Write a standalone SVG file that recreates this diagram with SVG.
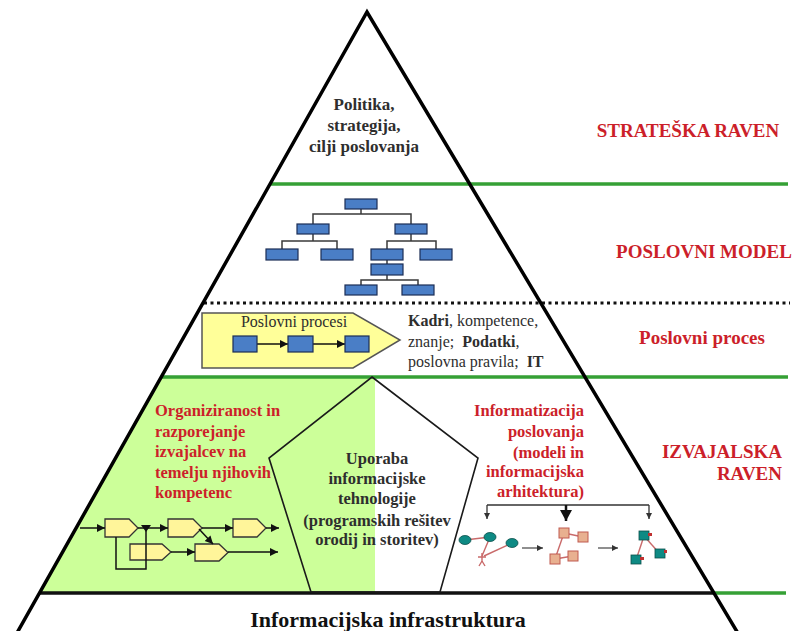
<svg xmlns="http://www.w3.org/2000/svg" width="799" height="631" viewBox="0 0 799 631">
<style>
.serif{font-family:"Liberation Serif","Times New Roman",serif}
.red{fill:#CC1F2A;font-weight:bold;font-family:"Liberation Serif","Times New Roman",serif}
.dark{fill:#2E2E2E;font-family:"Liberation Serif","Times New Roman",serif}
.b{font-weight:bold}
.green{stroke:#35A035;stroke-width:3.5;fill:none}
.org{fill:#4A7EC6;stroke:#1C2E55;stroke-width:1.2}
.oline{stroke:#3A3A3A;stroke-width:1.5;fill:none}
.yshape{fill:#FFF59A;stroke:#333;stroke-width:1.3}
.ar{stroke:#111;stroke-width:1.5;fill:none;marker-end:url(#ah)}
.teal{fill:#0E8A84;stroke:#0B4F4A;stroke-width:0.8}
.sal{stroke:#C96A6A;stroke-width:1.4;fill:none}
.obox{fill:#E8B090;stroke:#C05A50;stroke-width:1}
</style>
<defs>
<marker id="ah" markerUnits="userSpaceOnUse" markerWidth="9" markerHeight="9" refX="8" refY="4" orient="auto"><path d="M0,0 L8,4 L0,8 z" fill="#111"/></marker>
<marker id="ahb" markerUnits="userSpaceOnUse" markerWidth="12" markerHeight="12" refX="11" refY="6" orient="auto"><path d="M0,0 L11,6 L0,12 z" fill="#111"/></marker>
<marker id="ahg" markerUnits="userSpaceOnUse" markerWidth="7" markerHeight="7" refX="6" refY="3" orient="auto"><path d="M0,0 L6,3 L0,6 z" fill="#333"/></marker>
</defs>
<rect width="799" height="631" fill="#fff"/>

<!-- green area -->
<polygon points="162.3,377 375,377 375,592 40.4,592" fill="#CCFF99"/>

<!-- level lines -->
<g id="levels">
<line class="green" x1="270" y1="184" x2="788" y2="184"/>
<line x1="204" y1="303" x2="790" y2="303" stroke="#111" stroke-width="3" stroke-dasharray="3 3.5"/>
<line class="green" x1="162" y1="377" x2="788" y2="377"/>
<line class="green" x1="714" y1="593" x2="786" y2="593"/>
<line x1="40" y1="593" x2="714" y2="593" stroke="#111" stroke-width="3.5"/>
</g>

<!-- pyramid outline -->
<polyline id="pyramid" points="13,640 367,12 742,640" fill="none" stroke="#000" stroke-width="3.5" stroke-linejoin="miter"/>

<!-- strategic text -->
<g id="strategy">
<text class="dark b" font-size="17" text-anchor="middle"><tspan x="364" y="110">Politika,</tspan><tspan x="364" y="131">strategija,</tspan><tspan x="364" y="152">cilji poslovanja</tspan></text>
</g>

<!-- org chart -->
<g id="orgchart">
<g class="oline">
<polyline points="361,209 361,214"/>
<polyline points="313,224 313,214 411,214 411,224"/>
<polyline points="313,234 313,241"/>
<polyline points="282,249 282,241 337,241 337,249"/>
<polyline points="411,234 411,241"/>
<polyline points="387,249 387,241 436,241 436,249"/>
<polyline points="387,260 387,264"/>
<polyline points="387,275 387,280"/>
<polyline points="361,285 361,280 418,280 418,285"/>
</g>
<rect class="org" x="345" y="199" width="32" height="10"/>
<rect class="org" x="297" y="224" width="32" height="10"/>
<rect class="org" x="395" y="224" width="32" height="10"/>
<rect class="org" x="266" y="249" width="32" height="11"/>
<rect class="org" x="321" y="249" width="32" height="11"/>
<rect class="org" x="371" y="249" width="32" height="11"/>
<rect class="org" x="420" y="249" width="32" height="11"/>
<rect class="org" x="371" y="264" width="32" height="11"/>
<rect class="org" x="345" y="285" width="32" height="10"/>
<rect class="org" x="402" y="285" width="32" height="10"/>
</g>

<!-- business process arrow -->
<g id="process">
<polygon points="202,313 353,313 400,340 353,368 202,368" fill="#FFFF99" stroke="#555" stroke-width="1.5"/>
<text class="dark" font-size="16" x="294" y="327" text-anchor="middle">Poslovni procesi</text>
<line class="ar" x1="257" y1="344" x2="288" y2="344"/>
<line class="ar" x1="313" y1="344" x2="345" y2="344"/>
<rect class="org" x="233" y="336" width="24" height="16"/>
<rect class="org" x="288" y="336" width="25" height="16"/>
<rect class="org" x="345" y="336" width="24" height="16"/>
</g>
<g id="resources">
<text class="dark" font-size="16"><tspan x="408" y="326" font-weight="bold">Kadri</tspan><tspan>, kompetence,</tspan><tspan x="408" y="347">znanje;</tspan><tspan dx="8" font-weight="bold">Podatki</tspan><tspan>,</tspan><tspan x="408" y="367">poslovna pravila;</tspan><tspan dx="8" font-weight="bold">IT</tspan></text>
</g>

<!-- right labels -->
<g id="labels">
<text class="red" font-size="19" x="688" y="137" text-anchor="middle">STRATEŠKA RAVEN</text>
<text class="red" font-size="19" x="704" y="258" text-anchor="middle">POSLOVNI MODEL</text>
<text class="red" font-size="19" x="702" y="344" text-anchor="middle">Poslovni proces</text>
<text class="red" font-size="19" text-anchor="end"><tspan x="782" y="458">IZVAJALSKA</tspan><tspan x="782" y="480">RAVEN</tspan></text>
</g>

<!-- left red text -->
<g id="organization">
<text class="red" font-size="16.5"><tspan x="155" y="416">Organiziranost in</tspan><tspan x="155" y="437">razporejanje</tspan><tspan x="155" y="457">izvajalcev na</tspan><tspan x="155" y="478">temelju njihovih</tspan><tspan x="155" y="498">kompetenc</tspan></text>
</g>

<!-- workflow in green area -->
<g id="workflow">
<polygon class="yshape" points="105,519 129,519 138,528 129,537 105,537"/>
<polygon class="yshape" points="168,519 193,519 202,528 193,537 168,537"/>
<polygon class="yshape" points="233,519 257,519 266,528 257,537 233,537"/>
<polygon class="yshape" points="130,544 162,544 171,552 162,560 130,560"/>
<polygon class="yshape" points="195,544 219,544 228,552.5 219,561 195,561"/>
</g>
<g id="connectors">
<line class="ar" x1="80" y1="528" x2="105" y2="528"/>
<line class="ar" x1="138" y1="528" x2="168" y2="528"/>
<path d="M141,525 L151,525 L146,532 z" fill="#111"/>
<line class="ar" x1="202" y1="528" x2="233" y2="528"/>
<line class="ar" x1="266" y1="528" x2="279" y2="528"/>
<line class="ar" x1="199" y1="529" x2="213" y2="544"/>
<line class="ar" x1="171" y1="552" x2="195" y2="552"/>
<line class="ar" x1="228" y1="552" x2="278" y2="552"/>
<polyline points="116,537 116,569 146,569 146,530" fill="none" stroke="#111" stroke-width="1.5"/>
<polyline points="487,505 649,505" fill="none" stroke="#333" stroke-width="1.3"/>
<line x1="487" y1="505" x2="487" y2="519" stroke="#333" stroke-width="1.3" marker-end="url(#ahg)"/>
<line x1="649" y1="505" x2="649" y2="519" stroke="#333" stroke-width="1.3" marker-end="url(#ahg)"/>
<line x1="566" y1="505" x2="566" y2="521" stroke="#111" stroke-width="2.5" marker-end="url(#ahb)"/>
<line x1="522" y1="548" x2="543" y2="548" stroke="#444" stroke-width="1.2" marker-end="url(#ahg)"/>
<line x1="598" y1="548" x2="618" y2="548" stroke="#444" stroke-width="1.2" marker-end="url(#ahg)"/>
</g>

<!-- pentagon -->
<g id="technology">
<polygon points="372,377 478,458 440,592 311,592 269,458" fill="none" stroke="#1a1a1a" stroke-width="1.6"/>
<text class="dark b" font-size="16.5" text-anchor="middle"><tspan x="377" y="464">Uporaba</tspan><tspan x="377" y="484">informacijske</tspan><tspan x="377" y="504">tehnologije</tspan><tspan x="377" y="526">(programskih rešitev</tspan><tspan x="377" y="545">orodij in storitev)</tspan></text>
</g>

<!-- right red text -->
<g id="informatization">
<text class="red" font-size="16.5" text-anchor="end"><tspan x="584" y="416">Informatizacija</tspan><tspan x="584" y="437">poslovanja</tspan><tspan x="584" y="458">(modeli in</tspan><tspan x="584" y="477">informacijska</tspan><tspan x="584" y="497">arhitektura)</tspan></text>
</g>

<!-- architecture icons -->
<g id="model1">
<line class="sal" x1="465" y1="540" x2="490" y2="537"/>
<line class="sal" x1="490" y1="537" x2="482" y2="556"/>
<line class="sal" x1="512" y1="543" x2="484" y2="556"/>
<path class="sal" d="M482,553 L482,561 M478,557 L486,557 M482,561 L479,566 M482,561 L485,566"/>
<ellipse class="teal" cx="465" cy="540" rx="6" ry="4.5"/>
<ellipse class="teal" cx="490" cy="537" rx="6" ry="4.5"/>
<ellipse class="teal" cx="512" cy="543" rx="6" ry="4.5"/>
</g>
<g id="model2">
<line class="sal" x1="564" y1="533" x2="583" y2="537"/>
<line class="sal" x1="564" y1="533" x2="555" y2="559"/>
<line class="sal" x1="555" y1="559" x2="573" y2="556"/>
<rect class="obox" x="559" y="528" width="10" height="10"/>
<rect class="obox" x="578" y="532" width="10" height="10"/>
<rect class="obox" x="550" y="554" width="10" height="10"/>
<rect class="obox" x="568" y="551" width="10" height="10"/>
</g>
<g id="model3">
<line class="sal" x1="644" y1="536" x2="636" y2="560"/>
<line class="sal" x1="644" y1="536" x2="660" y2="554"/>
<rect class="teal" x="639" y="531" width="10" height="9"/>
<rect class="teal" x="631" y="555" width="10" height="9"/>
<rect class="teal" x="655" y="549" width="10" height="9"/>
<rect x="648" y="533" width="4" height="3" fill="#C03030"/>
<rect x="640" y="557" width="4" height="3" fill="#C03030"/>
<rect x="664" y="550" width="3" height="3" fill="#C03030"/>
</g>

<!-- infrastructure -->
<g id="infrastructure">
<text class="serif" font-size="22" font-weight="bold" fill="#111" x="388" y="627" text-anchor="middle">Informacijska infrastruktura</text>
</g>
</svg>
